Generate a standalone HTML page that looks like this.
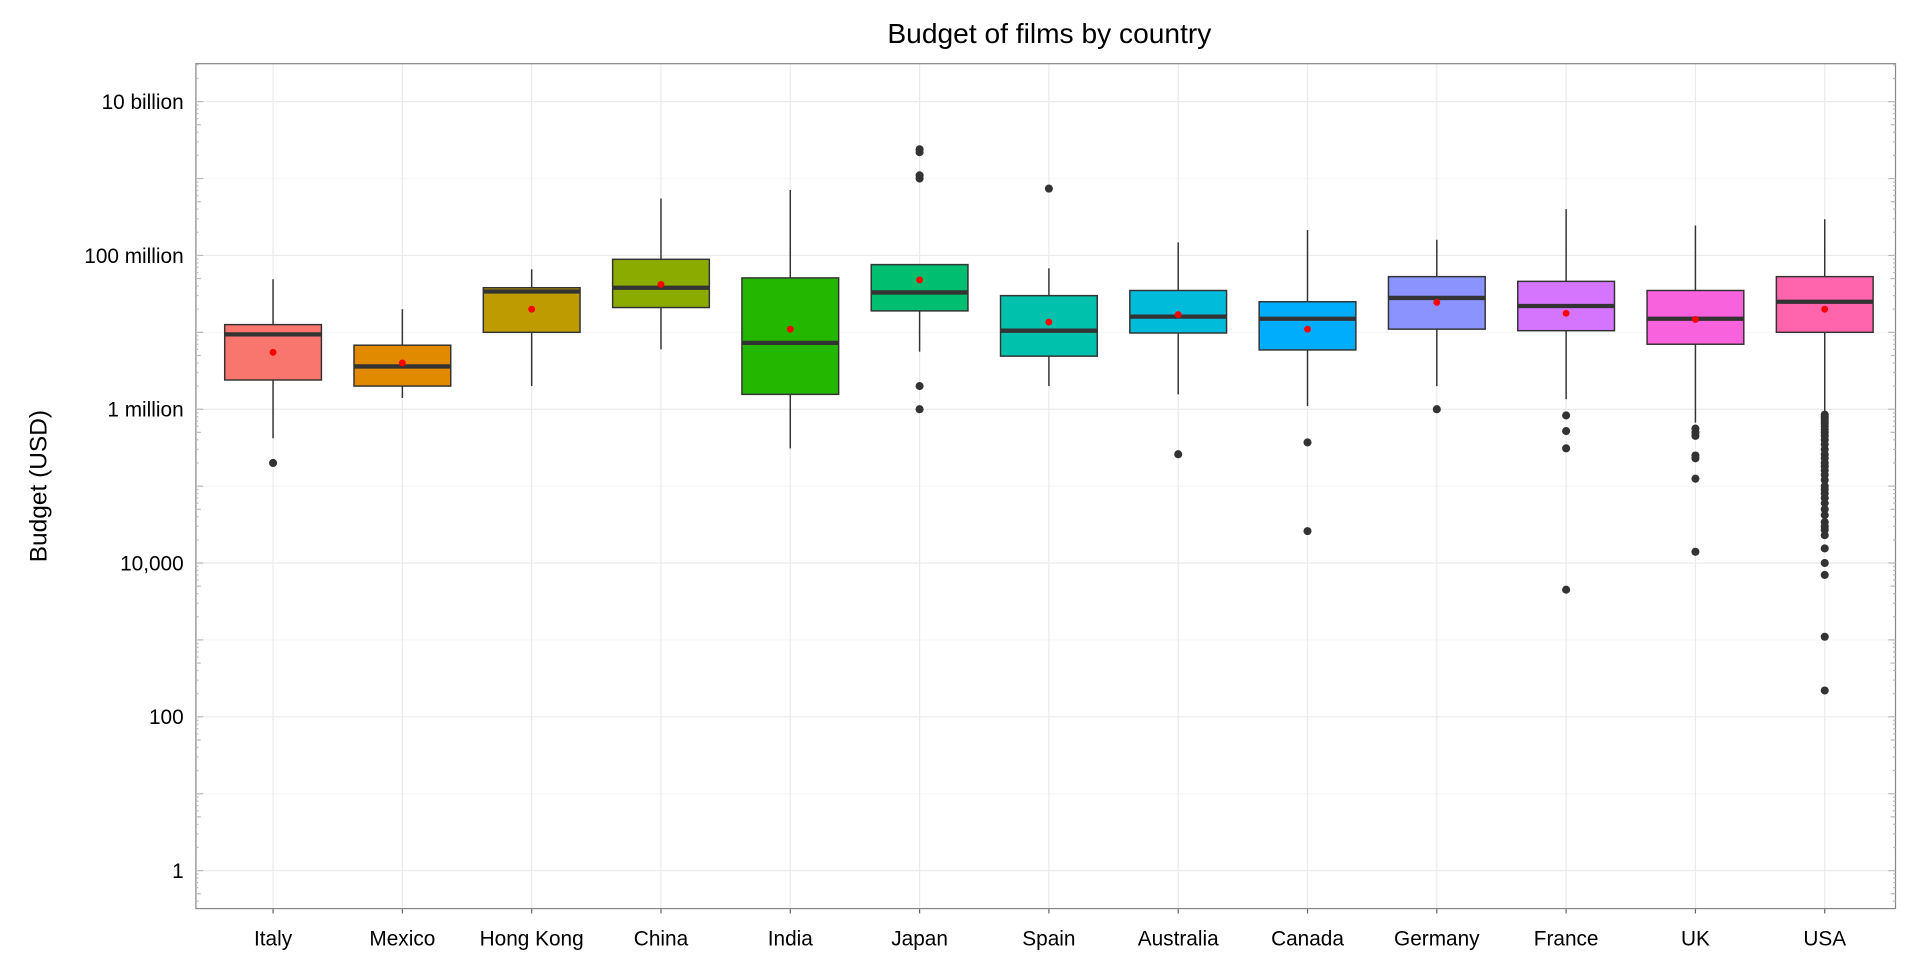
<!DOCTYPE html>
<html><head><meta charset="utf-8"><style>
html,body{margin:0;padding:0;background:#fff;}
svg{display:block;font-family:"Liberation Sans",Arial,sans-serif;}
</style></head><body>
<svg id="chart" width="1920" height="960" viewBox="0 0 1568 784" xmlns="http://www.w3.org/2000/svg">
<text x="857" y="35" font-size="23" text-anchor="middle" fill="#000">Budget of films by country</text>
<text transform="translate(38,397) rotate(-90)" font-size="20" text-anchor="middle" fill="#000">Budget (USD)</text>
<g id="grid"></g><g id="marks"></g><g id="axes"></g>
</svg>
<script>
const categories=["Italy","Mexico","Hong Kong","China","India","Japan","Spain","Australia","Canada","Germany","France","UK","USA"];
const colors=["#F8766D","#E18A00","#BE9C00","#8CAB00","#24B700","#00BE70","#00C1AB","#00BBDA","#00ACFC","#8B93FF","#D575FE","#F962DD","#FF65AC"];
const whiskerLow=[420e3,1.4e6,2e6,6e6,310e3,5.6e6,2e6,1.56e6,1.1e6,2e6,1.35e6,670e3,910e3];
const q1=[2.4e6,2.0e6,10e6,21e6,1.56e6,19e6,4.9e6,9.8e6,5.9e6,11e6,10.5e6,7e6,10e6];
const medians=[9.4e6,3.6e6,34e6,38e6,7.3e6,33e6,10.5e6,16e6,15e6,28e6,22e6,15e6,25e6];
const q3=[12.6e6,6.8e6,38e6,89e6,51e6,76e6,30e6,35e6,25e6,53e6,46e6,35e6,53e6];
const whiskerHigh=[49e6,20e6,66e6,550e6,710e6,76e6,68e6,148e6,214e6,160e6,400e6,245e6,295e6];
const means=[5.5e6,4e6,20e6,42e6,11e6,48e6,13.6e6,17e6,11e6,24.5e6,17.7e6,14.7e6,20e6];
const outliers=[[200e3],[],[],[],[],[2.4e9,2.2e9,1.1e9,1.0e9,2e6,1e6],[740e6],[260e3],[370e3,26e3],[1e6],[830e3,520e3,310e3,4.5e3],[560e3,500e3,450e3,250e3,230e3,125e3,14e3],
[850e3,800e3,750e3,700e3,650e3,600e3,550e3,500e3,450e3,400e3,350e3,300e3,260e3,230e3,200e3,180e3,160e3,140e3,120e3,100e3,90e3,80e3,70e3,60e3,50e3,42e3,34e3,30e3,27e3,23e3,15.5e3,10e3,7e3,1.1e3,220]];
const yTickVals=[1,100,1e4,1e6,1e8,1e10];
const yTickLabels=["1","100","10,000","1 million","100 million","10 billion"];
const L=160,R=1548,T=52,B=742;
const y=v=>711-62.8*Math.log10(v);
const x=i=>223+i*105.6;
const ns="http://www.w3.org/2000/svg";
function mk(tag,at,parent){const e=document.createElementNS(ns,tag);for(const k in at)e.setAttribute(k,at[k]);document.getElementById(parent).appendChild(e);return e;}
// gridlines
for(let d=0;d<=10;d++){const g=mk("line",{x1:L,x2:R,y1:y(Math.pow(10,d)),y2:y(Math.pow(10,d)),stroke:d%2?"#f7f7f7":"#ebebeb","stroke-width":1},"grid");

}
categories.forEach((c,i)=>{const g=mk("line",{x1:x(i),x2:x(i),y1:T,y2:B,stroke:"#ebebeb","stroke-width":1},"grid");

});
// boxes
const hw=39.5;
categories.forEach((c,i)=>{const cx=x(i);
const w=mk("line",{x1:cx,x2:cx,y1:y(whiskerHigh[i]),y2:y(whiskerLow[i]),stroke:"#333","stroke-width":1.2},"marks");


outliers[i].forEach(v=>{const o=mk("circle",{cx:cx,cy:y(v),r:3.3,fill:"#333"},"marks");

});
const b=mk("rect",{x:cx-hw,y:y(q3[i]),width:2*hw,height:y(q1[i])-y(q3[i]),fill:colors[i],stroke:"#333","stroke-width":1.2},"marks");


const m=mk("line",{x1:cx-hw,x2:cx+hw,y1:y(medians[i]),y2:y(medians[i]),stroke:"#333","stroke-width":3.5},"marks");


const mn=mk("circle",{cx:cx,cy:y(means[i]),r:2.8,fill:"#ff0000"},"marks");


const t=mk("text",{x:cx,y:772,"font-size":17,"text-anchor":"middle",fill:"#000"},"axes");t.textContent=c;


const tk=mk("line",{x1:cx,x2:cx,y1:B,y2:B+4,stroke:"#666"},"axes");


});
// frame
const f=mk("rect",{x:L,y:T,width:R-L,height:B-T,fill:"none",stroke:"#888","stroke-width":1},"axes");


// log ticks
for(let d=-1;d<=10;d++){for(let m=1;m<10;m++){const v=m*Math.pow(10,d);const yy=y(v);if(yy<T||yy>B)continue;
const len=m===1?6:(m===5?4:2);
[[L,L+len],[R,R-len]].forEach(p=>{const l=mk("line",{x1:p[0],x2:p[1],y1:yy,y2:yy,stroke:"#bbb","stroke-width":1},"axes");

});}}
yTickVals.forEach((v,i)=>{const t=mk("text",{x:150,y:y(v)+6,"font-size":17,"text-anchor":"end",fill:"#000"},"axes");t.textContent=yTickLabels[i];

});
</script>
</body></html>
